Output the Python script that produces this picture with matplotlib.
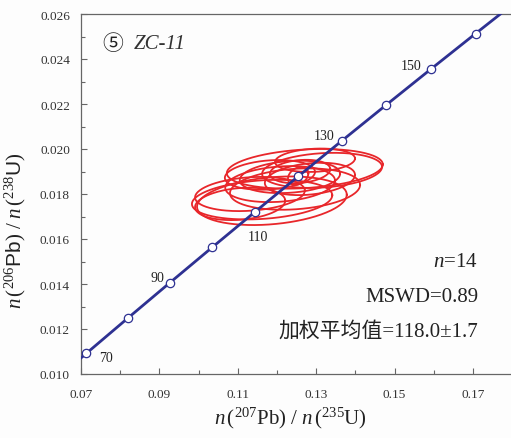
import numpy as np
from matplotlib import pyplot as plt

plt.rcParams['mathtext.fontset'] = 'custom'
plt.rcParams['mathtext.rm'] = 'Liberation Serif'
plt.rcParams['mathtext.it'] = 'Liberation Serif:italic'
plt.rcParams['mathtext.sf'] = 'Liberation Sans'
plt.rcParams['font.family'] = ['Liberation Serif', 'Noto Sans CJK SC', 'DejaVu Sans']

# concordia ages (Ma) and ratios
ages = [70, 80, 90, 100, 110, 120, 130, 140, 150, 160]
con_x = [0.071371, 0.081975, 0.092683, 0.103498, 0.114419,
         0.125449, 0.136588, 0.147837, 0.159197, 0.170670]
con_y = [0.010918, 0.012487, 0.014059, 0.015633, 0.017210,
         0.018789, 0.020371, 0.021955, 0.023542, 0.025131]
# ends of the drawn curve (68.7 Ma and 165.5 Ma)
line_x = [0.0700] + con_x + [0.1770]
line_y = [0.010714] + con_y + [0.026000]
labelled = [70, 90, 110, 130, 150]

# spot analyses: 207/235, 206/238, errors, rho
spot_x = [0.1162, 0.1187, 0.1315, 0.1271, 0.1233, 0.1254, 0.1208,
          0.1284, 0.1131, 0.1246, 0.1182, 0.1297, 0.1106, 0.1259]
spot_y = [0.01775, 0.01770, 0.01905, 0.01912, 0.01876, 0.01880, 0.01844,
          0.01867, 0.01800, 0.01822, 0.01885, 0.01950, 0.01756, 0.01900]
err_x = [0.0179, 0.0191, 0.0153, 0.0199, 0.0128, 0.0026, 0.0140,
         0.0115, 0.0140, 0.0166, 0.0115, 0.0102, 0.0115, 0.0077]
err_y = [0.00088, 0.00108, 0.00078, 0.00088, 0.00072, 0.00040, 0.00080,
         0.00072, 0.00076, 0.00092, 0.00066, 0.00052, 0.00072, 0.00052]
rho = [0.22, 0.25, 0.2, 0.22, 0.2, 0.3, 0.2, 0.25, 0.2, 0.2, 0.2, 0.15, 0.2, 0.2]

fig = plt.figure(figsize=(5.11, 4.39), dpi=100)
fig.patch.set_facecolor('#fdfdfd')
ax = fig.add_axes([81 / 511, 64 / 439, 430 / 511, 360 / 439])
ax.set_facecolor('#fdfdfd')

t = np.linspace(0, 2 * np.pi, 200)
for cx, cy, sx, sy, r in zip(spot_x, spot_y, err_x, err_y, rho):
    ex = cx + sx * np.cos(t)
    ey = cy + sy * (r * np.cos(t) + np.sqrt(1 - r ** 2) * np.sin(t))
    ax.plot(ex, ey, color='#e8262a', lw=1.3, zorder=2)

ax.plot(line_x, line_y, color='#2e3192', lw=2.0, zorder=3)
ax.plot(con_x, con_y, 'o', ms=6, mfc='white', mec='#2e3192', mew=0.9, zorder=4)

offsets = {70: (14, -3), 90: (-9, 4), 110: (2, -18), 130: (-13, 3.5), 150: (-14, 3)}
for a, x, y in zip(ages, con_x, con_y):
    if a in labelled:
        ax.annotate(str(a), (x, y), xytext=offsets[a], textcoords='offset points',
                    ha='center', va='center', fontsize=10, color='#222222')

ax.set_xlim(0.07, 0.1797)
ax.set_ylim(0.010, 0.026)
ax.set_xticks([0.07, 0.09, 0.11, 0.13, 0.15, 0.17])
ax.set_xticks([0.08, 0.10, 0.12, 0.14, 0.16], minor=True)
ax.set_yticks(np.arange(0.010, 0.0261, 0.002))
ax.set_yticks(np.arange(0.011, 0.026, 0.002), minor=True)
ax.xaxis.set_major_formatter(plt.FormatStrFormatter('%.2f'))
ax.yaxis.set_major_formatter(plt.FormatStrFormatter('%.3f'))
ax.tick_params(which='both', direction='in', color='#666666', labelsize=9.5,
               labelcolor='#333333', width=0.8)
ax.tick_params(which='major', length=4)
ax.tick_params(which='minor', length=3)
ax.tick_params(axis='x', pad=10)
ax.tick_params(axis='y', pad=8)
ax.spines['right'].set_visible(False)
for s in ['left', 'bottom', 'top']:
    ax.spines[s].set_color('#666666')
    ax.spines[s].set_linewidth(0.9)

fig.text(290 / 511, 1 - 418 / 439,
         r'$n\,(^{207}\mathrm{Pb})\ /\ n\,(^{235}\mathrm{U})$',
         ha='center', va='center', fontsize=15, color='#222222')
fig.text(15 / 511, 1 - 231 / 439,
         r'$n\,(^{206}\mathsf{Pb})\ /\ n\,(^{238}\mathsf{U})$',
         ha='center', va='center', rotation=90, fontsize=15, color='#222222')

ax.text(0.078, 0.0247, '⑤', fontsize=15, family=['Noto Sans CJK SC', 'DejaVu Sans'],
        ha='center', va='center', color='#222222')
ax.text(0.0835, 0.0247, 'ZC-11', fontsize=15, style='italic', ha='left',
        va='center', color='#333333')

ax.text(0.1713, 0.0150, r'$n$=14', fontsize=15, ha='right', va='center', color='#222222')
ax.text(0.1713, 0.01345, 'MSWD=0.89', fontsize=15, ha='right', va='center', color='#222222')
ax.text(0.1713, 0.0119, '加权平均值=118.0±1.7', fontsize=15, ha='right', va='center',
        color='#222222')

plt.savefig('out.png', format='png', facecolor=fig.get_facecolor())
